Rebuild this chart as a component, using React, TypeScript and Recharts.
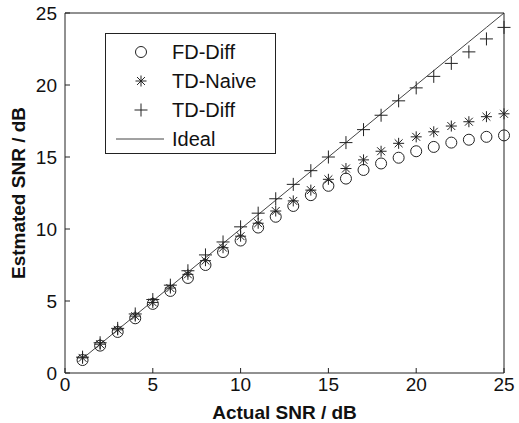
import React from "react";
import {
  ComposedChart,
  Scatter,
  Line,
  XAxis,
  YAxis,
  Legend,
} from "recharts";

const actualSnr = [1, 2, 3, 4, 5, 6, 7, 8, 9, 10, 11, 12, 13, 14, 15, 16, 17, 18, 19, 20, 21, 22, 23, 24, 25];
const fdDiff = [0.9, 1.9, 2.85, 3.8, 4.8, 5.7, 6.6, 7.5, 8.4, 9.2, 10.1, 10.85, 11.6, 12.35, 13.0, 13.5, 14.1, 14.55, 14.95, 15.4, 15.7, 16.0, 16.2, 16.4, 16.5];
const tdNaive = [1.05, 2.0, 3.0, 3.95, 4.9, 5.9, 6.85, 7.8, 8.7, 9.5, 10.4, 11.25, 11.95, 12.7, 13.45, 14.2, 14.8, 15.4, 15.95, 16.4, 16.75, 17.15, 17.45, 17.8, 18.0];
const tdDiff = [1.1, 2.1, 3.1, 4.1, 5.1, 6.1, 7.1, 8.2, 9.1, 10.15, 11.1, 12.1, 13.1, 14.05, 15.0, 16.0, 16.9, 17.9, 18.9, 19.8, 20.6, 21.5, 22.3, 23.2, 24.0];
const ideal = actualSnr;
const ticks = [0, 5, 10, 15, 20, 25];

const data = actualSnr.map((x, i) => ({
  x,
  fd: fdDiff[i],
  naive: tdNaive[i],
  diff: tdDiff[i],
  ideal: ideal[i],
}));

const INK = "#222";
const FONT = "'Liberation Sans', Arial, sans-serif";

const Circle = ({ cx, cy }: any) => (
  <circle cx={cx} cy={cy} r={5.5} fill="none" stroke={INK} strokeWidth={1} />
);

const Star = ({ cx, cy }: any) => {
  const r = 5.5;
  const d = r * 0.72;
  return (
    <g stroke={INK} strokeWidth={1}>
      <line x1={cx - r} y1={cy} x2={cx + r} y2={cy} />
      <line x1={cx} y1={cy - r} x2={cx} y2={cy + r} />
      <line x1={cx - d} y1={cy - d} x2={cx + d} y2={cy + d} />
      <line x1={cx - d} y1={cy + d} x2={cx + d} y2={cy - d} />
    </g>
  );
};

const Plus = ({ cx, cy }: any) => {
  const r = 6.5;
  return (
    <g stroke={INK} strokeWidth={1}>
      <line x1={cx - r} y1={cy} x2={cx + r} y2={cy} />
      <line x1={cx} y1={cy - r} x2={cx} y2={cy + r} />
    </g>
  );
};

const legendItems = [
  { name: "FD-Diff", shape: Circle },
  { name: "TD-Naive", shape: Star },
  { name: "TD-Diff", shape: Plus },
  { name: "Ideal", shape: null },
];

const renderLegend = () => (
  <div
    style={{
      width: 169,
      height: 119,
      border: `1px solid ${INK}`,
      background: "#fff",
      position: "relative",
      fontFamily: FONT,
      fontSize: 20,
      color: "#111",
    }}
  >
    {legendItems.map((item, i) => {
      const Shape = item.shape;
      return (
        <div
          key={item.name}
          style={{
            position: "absolute",
            left: 0,
            top: 4 + i * 29,
            height: 28,
            width: 169,
            display: "flex",
            alignItems: "center",
          }}
        >
          <svg width={66} height={28} style={{ flexShrink: 0 }}>
            {Shape ? (
              <Shape cx={35} cy={14} />
            ) : (
              <line x1={10} y1={14} x2={58} y2={14} stroke="#444" strokeWidth={1} />
            )}
          </svg>
          <span>{item.name}</span>
        </div>
      );
    })}
  </div>
);

const tickStyle = { fontFamily: FONT, fontSize: 19, fill: "#111" };
const labelStyle = { fontFamily: FONT, fontSize: 19, fontWeight: "bold", fill: "#111" };

export default function App() {
  return (
    <div style={{ position: "absolute", left: 0, top: 0, background: "#fff" }}>
      <ComposedChart
        width={519}
        height={423}
        data={data}
        margin={{ top: 0, right: 0, bottom: 0, left: 0 }}
      >
        <XAxis
          xAxisId="b"
          dataKey="x"
          type="number"
          domain={[0, 25]}
          ticks={ticks}
          height={50}
          tickSize={-5}
          tickMargin={10}
          stroke={INK}
          tick={tickStyle}
          label={{ value: "Actual SNR / dB", position: "insideBottom", offset: 4, style: labelStyle }}
        />
        <XAxis
          xAxisId="t"
          dataKey="x"
          type="number"
          orientation="top"
          domain={[0, 25]}
          ticks={ticks}
          height={13}
          tickSize={-5}
          stroke={INK}
          tick={false}
        />
        <YAxis
          yAxisId="l"
          type="number"
          domain={[0, 25]}
          ticks={ticks}
          width={65}
          tickSize={-5}
          tickMargin={13}
          stroke={INK}
          tick={tickStyle}
          label={{
            value: "Estmated SNR / dB",
            angle: -90,
            position: "insideLeft",
            offset: 18,
            style: { ...labelStyle, textAnchor: "middle" },
          }}
        />
        <YAxis
          yAxisId="r"
          type="number"
          orientation="right"
          domain={[0, 25]}
          ticks={ticks}
          width={15}
          tickSize={-5}
          stroke={INK}
          tick={false}
        />
        <Line
          xAxisId="b"
          yAxisId="l"
          dataKey="ideal"
          name="Ideal"
          type="linear"
          stroke="#444"
          strokeWidth={1}
          dot={false}
          activeDot={false}
          isAnimationActive={false}
        />
        <Scatter xAxisId="b" yAxisId="l" dataKey="fd" name="FD-Diff" shape={Circle} isAnimationActive={false} />
        <Scatter xAxisId="b" yAxisId="l" dataKey="naive" name="TD-Naive" shape={Star} isAnimationActive={false} />
        <Scatter xAxisId="b" yAxisId="l" dataKey="diff" name="TD-Diff" shape={Plus} isAnimationActive={false} />
        <Legend
          layout="vertical"
          align="center"
          verticalAlign="middle"
          wrapperStyle={{ left: 105, top: 33, width: 171, height: 121 }}
          content={renderLegend}
        />
      </ComposedChart>
    </div>
  );
}
